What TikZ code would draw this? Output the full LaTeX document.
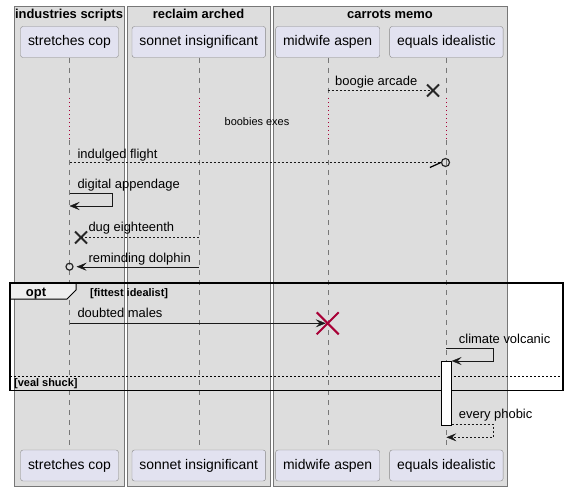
\documentclass[tikz,border=0pt]{standalone}
\usepackage{fontspec}
\setmainfont{Liberation Sans}
\usetikzlibrary{arrows.meta,shapes.misc,positioning}

\definecolor{groupfill}{HTML}{DDDDDD}
\definecolor{groupline}{HTML}{777777}
\definecolor{partfill}{HTML}{E2E2F0}
\definecolor{partline}{HTML}{888888}
\definecolor{lifegray}{HTML}{777777}
\definecolor{delayred}{HTML}{A80036}
\definecolor{tabfill}{HTML}{EEEEEE}

\tikzset{
  partbox/.style={draw=partline, fill=partfill, rounded corners=2.5bp, minimum height=31bp, inner xsep=7.5bp, inner ysep=0pt, font=\fontsize{14}{16}\selectfont},
  groupbox/.style={draw=groupline, fill=groupfill},
  grouptitle/.style={font=\bfseries\fontsize{13}{15}\selectfont, anchor=base, inner sep=0pt},
  lifeline/.style={draw=lifegray, dash pattern=on 5bp off 5bp},
  delayline/.style={draw=delayred, dash pattern=on 1bp off 3bp},
  msglabel/.style={font=\fontsize{13}{15}\selectfont, anchor=base west, inner sep=0pt},
  smalllabel/.style={font=\fontsize{11}{13}\selectfont, inner sep=0pt},
  guardlabel/.style={font=\bfseries\fontsize{11}{13}\selectfont, anchor=base west, inner sep=0pt},
  msgline/.style={draw=black!90},
  retline/.style={draw=black!90, dash pattern=on 2bp off 2bp},
  sync/.style={msgline, -{Stealth[length=10bp,width=8bp,inset=4bp]}},
  ret/.style={retline, -{Stealth[length=10bp,width=8bp,inset=4bp]}},
  lostx/.style={cross out, draw=black!85, line width=2bp, minimum size=10bp, inner sep=0pt},
  killx/.style={cross out, draw=delayred, line width=2bp, minimum size=20bp, inner sep=0pt},
  endcircle/.style={circle, draw=black!85, line width=1.2bp, minimum size=8bp, inner sep=0pt},
  actbar/.style={draw=black, fill=white, minimum width=10bp, minimum height=64bp, inner sep=0pt, anchor=north},
}

\begin{document}
\begin{tikzpicture}[x=1bp, y=-1bp]
        \useasboundingbox (0,0) rectangle (568,491);

        %Boxes
        \draw [groupbox] (14,6) rectangle (124,486);
        \node [grouptitle] (gindustries) at (69,18.5) {industries scripts};
        \draw [groupbox] (127,6) rectangle (270,486);
        \node [grouptitle] (greclaim) at (198.5,18.5) {reclaim arched};
        \draw [groupbox] (273,6) rectangle (507,486);
        \node [grouptitle] (gcarrots) at (390,18.5) {carrots memo};

        %Participants
        \node [partbox] (sc) at (69.5,42) {stretches cop};
        \node [partbox] (si) at (198.8,42) {sonnet insignificant};
        \node [partbox] (ma) at (327.7,42) {midwife aspen};
        \node [partbox] (ei) at (446.4,42) {equals idealistic};
        \node [partbox] (scb) at (69.5,465.5) {stretches cop};
        \node [partbox] (sib) at (198.8,465.5) {sonnet insignificant};
        \node [partbox] (mab) at (327.7,465.5) {midwife aspen};
        \node [partbox] (eib) at (446.4,465.5) {equals idealistic};

        %Lifelines
        \coordinate (delaytop) at (0,98);
        \coordinate (delaybot) at (0,140);
        \draw [lifeline] (sc) -- (sc |- delaytop);
        \draw [delayline] (sc |- delaytop) -- (sc |- delaybot);
        \draw [lifeline] (sc |- delaybot) -- (scb);
        \draw [lifeline] (si) -- (si |- delaytop);
        \draw [delayline] (si |- delaytop) -- (si |- delaybot);
        \draw [lifeline] (si |- delaybot) -- (sib);
        \draw [lifeline] (ma) -- (ma |- delaytop);
        \draw [delayline] (ma |- delaytop) -- (ma |- delaybot);
        \draw [lifeline] (ma |- delaybot) -- (mab);
        \draw [lifeline] (ei) -- (ei |- delaytop);
        \draw [delayline] (ei |- delaytop) -- (ei |- delaybot);
        \draw [lifeline] (ei |- delaybot) -- (eib);

        %Delay
        \node [smalllabel] (delay) at (257,121.5) {boobies exes};

        %Opt frame
        \draw [fill=tabfill, line width=1bp] (10,283) -- (76,283) -- (76,290) -- (67,299) -- (10,299);
        \draw [line width=1.5bp] (10,283) rectangle (563,390.5);
        \draw [dash pattern=on 2bp off 2bp] (10,375.7) -- (563,375.7);
        \node [font=\bfseries\fontsize{13}{15}\selectfont, anchor=base, inner sep=0pt] (opt) at (36,296) {opt};
        \node [guardlabel] (guard1) at (90,296.5) {[fittest idealist]};
        \node [guardlabel] (guard2) at (14,386) {[veal shuck]};

        %Activation
        \node [actbar] (act) at (446.5,361) {};

        %Boogie arcade
        \coordinate (boogie) at (433,90.5);
        \node [lostx] (boogiex) at (boogie) {};
        \draw [retline] (ma |- boogie) -- (boogie);
        \node [msglabel] at (335,86) {boogie arcade};

        %Indulged flight
        \coordinate (flight) at (445.5,162.5);
        \node [endcircle] (flightend) at (flight) {};
        \draw [retline] (sc |- flight) -- (flightend.west);
        \draw [line width=1.2bp] (flightend.west) -- +(-11,5);
        \node [msglabel] at (77.3,159) {indulged flight};

        %Digital appendage
        \coordinate (appendtop) at (111.7,193.3);
        \coordinate (appendbot) at (0,206);
        \draw [sync] (sc |- appendtop) -- (appendtop) |- (sc |- appendbot);
        \node [msglabel] at (77.3,188.3) {digital appendage};

        %Dug eighteenth
        \coordinate (dug) at (81,237.5);
        \node [lostx] (dugx) at (dug) {};
        \draw [retline] (si |- dug) -- (dug);
        \node [msglabel] at (88.3,231.7) {dug eighteenth};

        %Reminding dolphin
        \coordinate (dolphin) at (0,266.7);
        \node [endcircle, minimum size=7bp] (dolphinend) at (sc |- dolphin) {};
        \draw [sync, shorten >=3bp] (si |- dolphin) -- (dolphinend.east);
        \node [msglabel] at (88.3,262.3) {reminding dolphin};

        %Doubted males
        \coordinate (doubted) at (0,323.3);
        \node [killx] (kill) at (ma |- doubted) {};
        \draw [sync, shorten >=2bp] (sc |- doubted) -- (kill.center);
        \node [msglabel] at (77.3,317.3) {doubted males};

        %Climate volcanic
        \coordinate (volctop) at (493.3,348.3);
        \draw [sync] (ei |- volctop) -- (volctop) |- (act.north east);
        \node [msglabel] at (458.7,343.3) {climate volcanic};

        %Every phobic
        \coordinate (phobictop) at (493.3,424.3);
        \coordinate (phobicbot) at (0,437.3);
        \draw [ret] (act.east |- phobictop) -- (phobictop) |- (ei |- phobicbot);
        \node [msglabel] at (458.7,418.3) {every phobic};

\end{tikzpicture}
\end{document}
